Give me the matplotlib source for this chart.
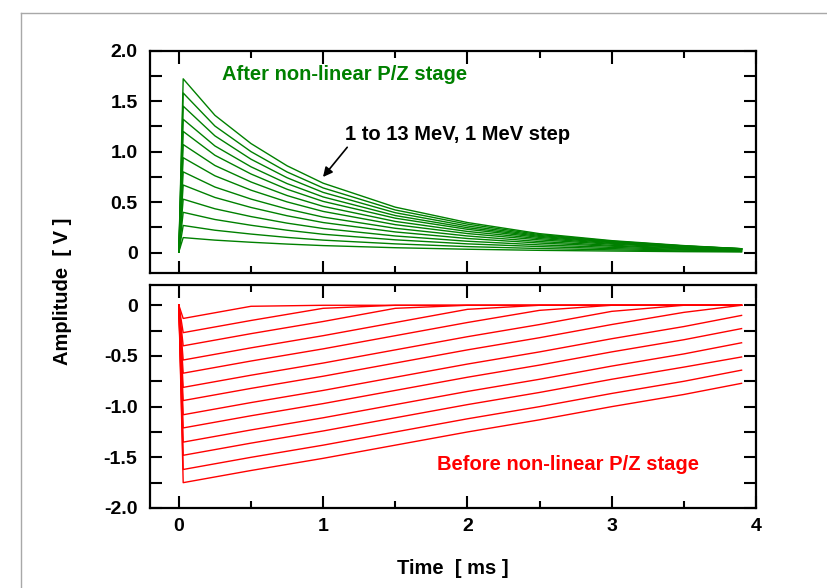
import matplotlib.pyplot as plt
from matplotlib.lines import Line2D
from matplotlib.ticker import MultipleLocator, FixedFormatter, FixedLocator

plt.rcParams['font.family'] = ['Liberation Sans', 'DejaVu Sans']
plt.rcParams['font.weight'] = 'bold'

# 13 pulses, 1 to 13 MeV
energies_mev = list(range(1, 14))

# after the non-linear P/Z stage (top panel)
t_after = [0.0, 0.03, 0.25, 0.5, 0.75, 1.0, 1.5, 2.0, 2.5, 3.0, 3.5, 3.9]
after_pz = [
    [0.01, 0.15, 0.125, 0.104, 0.086, 0.071, 0.050, 0.035, 0.024, 0.017, 0.011, 0.008],
    [0.01, 0.27, 0.223, 0.185, 0.152, 0.125, 0.088, 0.061, 0.042, 0.029, 0.018, 0.013],
    [0.01, 0.40, 0.329, 0.272, 0.223, 0.183, 0.128, 0.088, 0.061, 0.041, 0.026, 0.018],
    [0.01, 0.53, 0.435, 0.358, 0.293, 0.240, 0.166, 0.114, 0.078, 0.053, 0.033, 0.023],
    [0.01, 0.67, 0.547, 0.448, 0.366, 0.299, 0.206, 0.141, 0.096, 0.065, 0.040, 0.027],
    [0.01, 0.80, 0.650, 0.531, 0.433, 0.353, 0.242, 0.166, 0.111, 0.074, 0.046, 0.031],
    [0.01, 0.94, 0.761, 0.619, 0.503, 0.409, 0.278, 0.190, 0.127, 0.085, 0.053, 0.035],
    [0.01, 1.07, 0.863, 0.700, 0.566, 0.459, 0.310, 0.211, 0.140, 0.093, 0.057, 0.036],
    [0.01, 1.20, 0.964, 0.779, 0.628, 0.508, 0.342, 0.232, 0.152, 0.100, 0.061, 0.038],
    [0.01, 1.32, 1.056, 0.850, 0.684, 0.552, 0.368, 0.248, 0.162, 0.106, 0.063, 0.040],
    [0.01, 1.45, 1.156, 0.925, 0.742, 0.597, 0.396, 0.265, 0.171, 0.112, 0.067, 0.039],
    [0.01, 1.58, 1.253, 1.000, 0.799, 0.641, 0.423, 0.283, 0.180, 0.115, 0.068, 0.040],
    [0.01, 1.72, 1.359, 1.080, 0.860, 0.688, 0.451, 0.299, 0.189, 0.120, 0.071, 0.040],
]

# before the non-linear P/Z stage (bottom panel)
t_before = [0.0, 0.03, 0.5, 1.0, 1.5, 2.0, 2.5, 3.0, 3.5, 3.9]
before_pz = [
    [0.0, -0.13, -0.01, 0.00, 0.00, 0.00, 0.00, 0.00, 0.00, 0.00],
    [0.0, -0.27, -0.15, -0.03, 0.00, 0.00, 0.00, 0.00, 0.00, 0.00],
    [0.0, -0.40, -0.28, -0.16, -0.03, 0.00, 0.00, 0.00, 0.00, 0.00],
    [0.0, -0.54, -0.42, -0.30, -0.17, -0.04, 0.00, 0.00, 0.00, 0.00],
    [0.0, -0.67, -0.55, -0.43, -0.30, -0.17, -0.05, 0.00, 0.00, 0.00],
    [0.0, -0.81, -0.69, -0.57, -0.44, -0.31, -0.19, -0.06, 0.00, 0.00],
    [0.0, -0.94, -0.82, -0.70, -0.57, -0.44, -0.32, -0.19, -0.07, 0.00],
    [0.0, -1.08, -0.96, -0.84, -0.71, -0.58, -0.46, -0.33, -0.21, -0.10],
    [0.0, -1.21, -1.09, -0.97, -0.84, -0.71, -0.59, -0.46, -0.34, -0.23],
    [0.0, -1.35, -1.23, -1.11, -0.98, -0.85, -0.73, -0.60, -0.48, -0.37],
    [0.0, -1.48, -1.36, -1.24, -1.11, -0.98, -0.86, -0.73, -0.61, -0.51],
    [0.0, -1.62, -1.50, -1.38, -1.25, -1.12, -1.00, -0.87, -0.75, -0.64],
    [0.0, -1.75, -1.63, -1.51, -1.38, -1.25, -1.13, -1.00, -0.88, -0.77],
]

top_ticks = [0.0, 0.5, 1.0, 1.5, 2.0]
top_labels = ['0', '0.5', '1.0', '1.5', '2.0']
bot_ticks = [-2.0, -1.5, -1.0, -0.5, 0.0]
bot_labels = ['-2.0', '-1.5', '-1.0', '-0.5', '0']

W, H = 827, 588
fig = plt.figure(figsize=(W / 100, H / 100), dpi=100)

# light grey frame around the plot
fig.add_artist(Line2D([21 / W, 21 / W], [0, 1 - 13 / H], color='#a8a8a8', lw=1))
fig.add_artist(Line2D([21 / W, 1], [1 - 13 / H, 1 - 13 / H], color='#a8a8a8', lw=1))

ax1 = fig.add_axes([150 / W, 1 - 273 / H, 606 / W, 222.5 / H])
ax2 = fig.add_axes([150 / W, 1 - 508 / H, 606 / W, 223 / H])

for row in after_pz:
    ax1.plot(t_after, row, color='#008000', lw=1.0)
for row in before_pz:
    ax2.plot(t_before, row, color='#ff0000', lw=1.0)

for ax, yt, yl, ylim in [(ax1, top_ticks, top_labels, (-0.2, 2.0)),
                         (ax2, bot_ticks, bot_labels, (-2.0, 0.2))]:
    ax.set_xlim(-0.2, 4.0)
    ax.set_ylim(*ylim)
    ax.xaxis.set_major_locator(MultipleLocator(1))
    ax.xaxis.set_minor_locator(MultipleLocator(0.5))
    ax.yaxis.set_major_locator(FixedLocator(yt))
    ax.yaxis.set_major_formatter(FixedFormatter(yl))
    ax.yaxis.set_minor_locator(MultipleLocator(0.25))
    for s in ax.spines.values():
        s.set_linewidth(1.6)
    ax.tick_params(which='both', direction='in', top=True, right=True,
                   width=1.5, labelsize=14)
    ax.tick_params(axis='x', which='major', length=9, pad=7)
    ax.tick_params(axis='x', which='minor', length=5)
    ax.tick_params(axis='y', which='both', length=8.5, pad=9)

ax1.tick_params(axis='x', labelbottom=False)
ax2.set_xticks([0, 1, 2, 3, 4])
ax2.set_xticklabels(['0', '1', '2', '3', '4'])

ax1.text(222 / W, 1 - 75 / H, 'After non-linear P/Z stage', transform=fig.transFigure,
         color='#008000', fontsize=14.5, va='center', ha='left')
ax2.text(437 / W, 1 - 465 / H, 'Before non-linear P/Z stage', transform=fig.transFigure,
         color='#ff0000', fontsize=14.5, va='center', ha='left')
ax1.annotate('1 to 13 MeV, 1 MeV step', xy=(323 / W, 1 - 177 / H),
             xytext=(345 / W, 1 - 135 / H), xycoords='figure fraction',
             textcoords='figure fraction', fontsize=14.5, va='center', ha='left',
             arrowprops=dict(arrowstyle='-|>', color='black', lw=1.2,
                             shrinkA=0, shrinkB=0, mutation_scale=14,
                             relpos=(0.02, 0.0)))

fig.text(62 / W, 1 - 291 / H, 'Amplitude  [ V ]', rotation=90, fontsize=14.5,
         va='center', ha='center')
fig.text(453 / W, 1 - 568 / H, 'Time  [ ms ]', fontsize=14.5, va='center', ha='center')

fig.savefig('out.png', dpi=100)
